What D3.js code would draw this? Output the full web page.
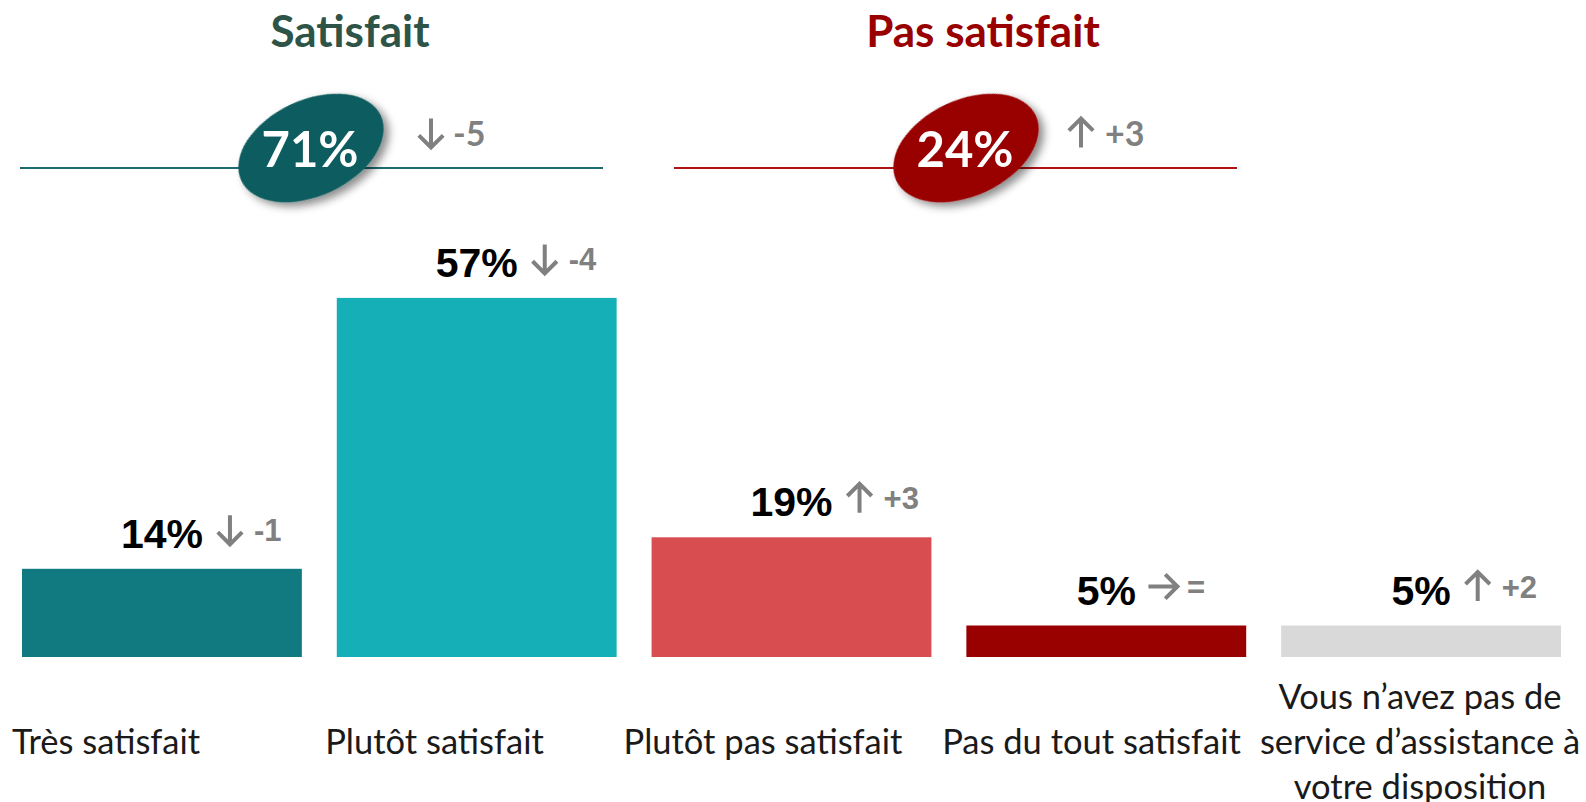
<!DOCTYPE html>
<html>
<head>
  <meta charset="utf-8">
  <title>Satisfaction</title>
  <style>
    body { margin: 0; background: #fff; }
    svg { display: block; }
  </style>
</head>
<body>
  <svg id="chart"></svg>

  <script src="https://d3js.org/d3.v7.min.js"></script>
  <script>
    // données du graphique
    const categories = [
      "Très satisfait",
      "Plutôt satisfait",
      "Plutôt pas satisfait",
      "Pas du tout satisfait",
      "Vous n’avez pas de\nservice d’assistance à\nvotre disposition"
    ];
    const values = [14, 57, 19, 5, 5];
    const deltas = ["-1", "-4", "+3", "=", "+2"];
    const trends = ["down", "down", "up", "right", "up"];

    const groups = ["Satisfait", "Pas satisfait"];
    const groupTotals = [71, 24];
    const groupDeltas = ["-5", "+3"];
    const groupTrends = ["down", "up"];

    const barColors = ["#107a80", "#14afb7", "#d84d50", "#990000", "#d9d9d9"];
    const groupColors = ["#0e5c5e", "#990000"];
    const titleColors = ["#2d5446", "#990000"];
    const lineColors = ["#1e6b6d", "#b01313"];

    const width = 1586;
    const height = 802;
    const grey = "#808080";

    const svg = d3.select("#chart")
      .attr("width", width)
      .attr("height", height);

    // ombre pour les ellipses
    const defs = svg.append("defs");
    const f = defs.append("filter").attr("id", "shadow")
      .attr("x", "-30%").attr("y", "-30%").attr("width", "160%").attr("height", "160%");
    f.append("feDropShadow")
      .attr("dx", 3).attr("dy", 6).attr("stdDeviation", 4)
      .attr("flood-color", "#000").attr("flood-opacity", 0.45);

    // échelles
    const x = d3.scaleBand()
      .domain(categories)
      .range([22, 1561])
      .paddingInner(0.111)
      .paddingOuter(0);

    const y = d3.scaleLinear()
      .domain([0, 100])
      .range([657, 27]);

    // les libellés ne suivent pas exactement les barres
    const xLabel = d3.scalePoint()
      .domain(categories)
      .range([106, 1420]);

    // flèche de tendance
    function arrow(g, cx, cy, dir, size, sw) {
      const h = size / 2;
      const w = size * 0.42;
      let d;
      if (dir === "down") {
        d = `M${cx},${cy - h}V${cy + h - 1}M${cx - w},${cy + h - w}L${cx},${cy + h}L${cx + w},${cy + h - w}`;
      } else if (dir === "up") {
        d = `M${cx},${cy + h}V${cy - h + 1}M${cx - w},${cy - h + w}L${cx},${cy - h}L${cx + w},${cy - h + w}`;
      } else {
        d = `M${cx - h},${cy}H${cx + h - 1}M${cx + h - w},${cy - w}L${cx + h},${cy}L${cx + h - w},${cy + w}`;
      }
      g.append("path")
        .attr("d", d)
        .attr("fill", "none")
        .attr("stroke", grey)
        .attr("stroke-width", sw)
        .attr("stroke-linejoin", "miter");
    }

    // en-têtes des groupes
    const groupTitleX = [350, 983];
    const groupLine = [[20, 603], [674, 1237]];
    const groupEllipseX = [311, 966];
    const groupArrowX = [431, 1081];
    const groupDeltaX = [453, 1105];

    groups.forEach((name, i) => {
      const g = svg.append("g");
      g.append("text")
        .attr("x", groupTitleX[i])
        .attr("y", 47)
        .attr("text-anchor", "middle")
        .style("font-family", "Lato, sans-serif")
        .style("font-weight", "bold")
        .style("font-size", "44px")
        .attr("fill", titleColors[i])
        .text(name);

      g.append("line")
        .attr("x1", groupLine[i][0]).attr("x2", groupLine[i][1])
        .attr("y1", 168).attr("y2", 168)
        .attr("stroke", lineColors[i])
        .attr("stroke-width", 2);

      g.append("ellipse")
        .attr("cx", 0).attr("cy", 0)
        .attr("rx", 77).attr("ry", 48)
        .attr("transform", `translate(${groupEllipseX[i]},148) rotate(-25)`)
        .attr("fill", groupColors[i])
        .attr("filter", "url(#shadow)");

      g.append("text")
        .attr("x", groupEllipseX[i] - 1)
        .attr("y", 167)
        .attr("text-anchor", "middle")
        .style("font-family", "Lato, sans-serif")
        .style("font-weight", "bold")
        .style("font-size", "49px")
        .attr("fill", "#fff")
        .text(groupTotals[i] + "%");

      arrow(g, groupArrowX[i], 133, groupTrends[i], 29, 4);

      g.append("text")
        .attr("x", groupDeltaX[i])
        .attr("y", 146)
        .style("font-family", "Lato, sans-serif")
        .style("font-weight", "bold")
        .style("font-size", "34px")
        .attr("fill", grey)
        .text(groupDeltas[i]);
    });

    // barres
    const data = categories.map((c, i) => ({
      cat: c, value: values[i], delta: deltas[i], trend: trends[i], color: barColors[i]
    }));

    svg.append("g").selectAll("rect")
      .data(data)
      .join("rect")
      .attr("x", d => x(d.cat))
      .attr("y", d => y(d.value))
      .attr("width", x.bandwidth())
      .attr("height", d => y(0) - y(d.value))
      .attr("fill", d => d.color);

    // valeurs + évolution
    const labels = svg.append("g").selectAll("g")
      .data(data)
      .join("g");

    labels.each(function (d) {
      const g = d3.select(this);
      const cx = x(d.cat) + x.bandwidth() / 2;
      const base = y(d.value) - 21;
      const t = g.append("text")
        .attr("x", cx)
        .attr("y", base)
        .attr("text-anchor", "middle")
        .style("font-family", "'Liberation Sans', Arial, sans-serif")
        .style("font-weight", "bold")
        .style("font-size", "41px")
        .attr("fill", "#000")
        .text(d.value + "%");
      const end = cx + t.node().getComputedTextLength() / 2;
      arrow(g, end + 27, base - 18, d.trend, 29, 4);
      g.append("text")
        .attr("x", end + 51)
        .attr("y", base - 7)
        .style("font-family", "'Liberation Sans', Arial, sans-serif")
        .style("font-weight", "bold")
        .style("font-size", "31px")
        .attr("fill", grey)
        .text(d.delta);
    });

    // libellés des catégories
    svg.append("g").selectAll("text")
      .data(categories)
      .join("text")
      .attr("text-anchor", "middle")
      .style("font-family", "Lato, sans-serif")
      .style("font-size", "34.5px")
      .attr("fill", "#1a1a1a")
      .each(function (c) {
        const lines = c.split("\n");
        const t = d3.select(this);
        const y0 = 754 - (lines.length > 1 ? 45 : 0);
        lines.forEach((line, k) => {
          t.append("tspan")
            .attr("x", xLabel(c))
            .attr("y", y0 + k * 45)
            .text(line);
        });
      });
  </script>
</body>
</html>
